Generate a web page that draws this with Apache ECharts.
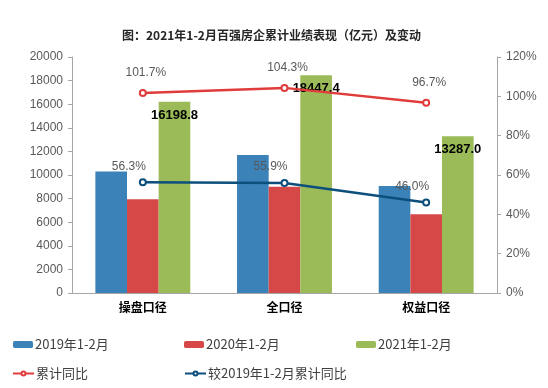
<!DOCTYPE html>
<html><head><meta charset="utf-8">
<script src="https://cdn.jsdelivr.net/npm/echarts@6/dist/echarts.min.js"></script>
<style>html,body{margin:0;padding:0;background:#fff}#c{width:548px;height:388px}</style>
</head><body><div id="c"></div>
<script>
const categories = ['操盘口径', '全口径', '权益口径'];
const v2019 = [10300, 11700, 9070];
const v2020 = [7950, 9000, 6680];
const v2021 = [16198.8, 18447.4, 13287.0];
const yoy = [101.7, 104.3, 96.7];
const vs2019 = [56.3, 55.9, 46.0];
const leftTicks = { min: 0, max: 20000, interval: 2000 };
const rightTicks = { min: 0, max: 120, interval: 20 };

const chart = echarts.init(document.getElementById('c'));
const font = 'Noto Sans CJK SC';
const gray = '#595959';
const legendText = { fontSize: 13, color: '#404040', fontFamily: font, padding: [0, 0, 0, -3] };
function lg(name, left, top, bar) {
  return {
    data: [name], left: left, top: top, itemGap: 0,
    itemWidth: bar ? 20 : 21, itemHeight: bar ? 7 : 5, textStyle: legendText,
    padding: 0, selectedMode: false
  };
}
chart.setOption({
  animation: false,
  textStyle: { fontFamily: font },
  title: {
    text: '图：2021年1-2月百强房企累计业绩表现（亿元）及变动',
    left: 117, top: 24,
    textStyle: { fontSize: 12, fontWeight: 'bold', color: '#262626', fontFamily: font }
  },
  legend: [
    lg('2019年1-2月', 13, 338, true),
    lg('2020年1-2月', 184, 338, true),
    lg('2021年1-2月', 356, 338, true),
    lg('累计同比', 12, 367, false),
    lg('较2019年1-2月累计同比', 184, 367, false)
  ],
  grid: { left: 72, right: 51, top: 57, bottom: 95 },
  xAxis: {
    type: 'category', data: categories,
    axisLine: { lineStyle: { color: '#A6A6A6' } },
    axisTick: { lineStyle: { color: '#A6A6A6' }, length: 4 },
    axisLabel: { fontWeight: 'bold', color: '#000', fontSize: 12, margin: 8, fontFamily: font }
  },
  yAxis: [
    {
      type: 'value', min: leftTicks.min, max: leftTicks.max, interval: leftTicks.interval,
      axisLine: { show: true, lineStyle: { color: '#A6A6A6' } },
      axisTick: { show: true, length: 4, lineStyle: { color: '#A6A6A6' } },
      splitLine: { show: false },
      axisLabel: { color: gray, fontSize: 12, margin: 9, fontFamily: 'Liberation Sans', formatter: v => String(v) }
    },
    {
      type: 'value', min: rightTicks.min, max: rightTicks.max, interval: rightTicks.interval,
      axisLine: { show: true, lineStyle: { color: '#A6A6A6' } },
      axisTick: { show: true, length: 4, lineStyle: { color: '#A6A6A6' } },
      splitLine: { show: false },
      axisLabel: { color: gray, fontSize: 12, margin: 9, formatter: '{value}%', fontFamily: 'Liberation Sans' }
    }
  ],
  series: [
    { name: '2019年1-2月', type: 'bar', data: v2019, barGap: '0%', barCategoryGap: '33%',
      itemStyle: { color: '#3A82B8' } },
    { name: '2020年1-2月', type: 'bar', data: v2020, itemStyle: { color: '#D64848' } },
    { name: '2021年1-2月', type: 'bar', data: v2021, itemStyle: { color: '#9BBB59' },
      label: { show: true, position: 'insideTop', distance: 7, color: '#000', fontWeight: 'bold',
        fontSize: 13, fontFamily: 'Liberation Sans', formatter: p => p.value.toFixed(1) } },
    { name: '累计同比', type: 'line', yAxisIndex: 1, data: yoy,
      symbol: 'emptyCircle', symbolSize: 6,
      lineStyle: { color: '#E03C3C', width: 2.5 }, itemStyle: { color: '#E03C3C', borderWidth: 1.5 },
      label: { show: true, position: 'top', distance: 10, offset: [3, 0], color: gray, fontSize: 12,
        fontFamily: 'Liberation Sans', formatter: p => p.value.toFixed(1) + '%' } },
    { name: '较2019年1-2月累计同比', type: 'line', yAxisIndex: 1, data: vs2019,
      symbol: 'emptyCircle', symbolSize: 6,
      lineStyle: { color: '#0D4F7C', width: 2.5 }, itemStyle: { color: '#0D4F7C', borderWidth: 1.5 },
      label: { show: true, position: 'top', distance: 6, offset: [-14, 0], color: gray, fontSize: 12,
        fontFamily: 'Liberation Sans', formatter: p => p.value.toFixed(1) + '%' } }
  ]
});
</script></body></html>
